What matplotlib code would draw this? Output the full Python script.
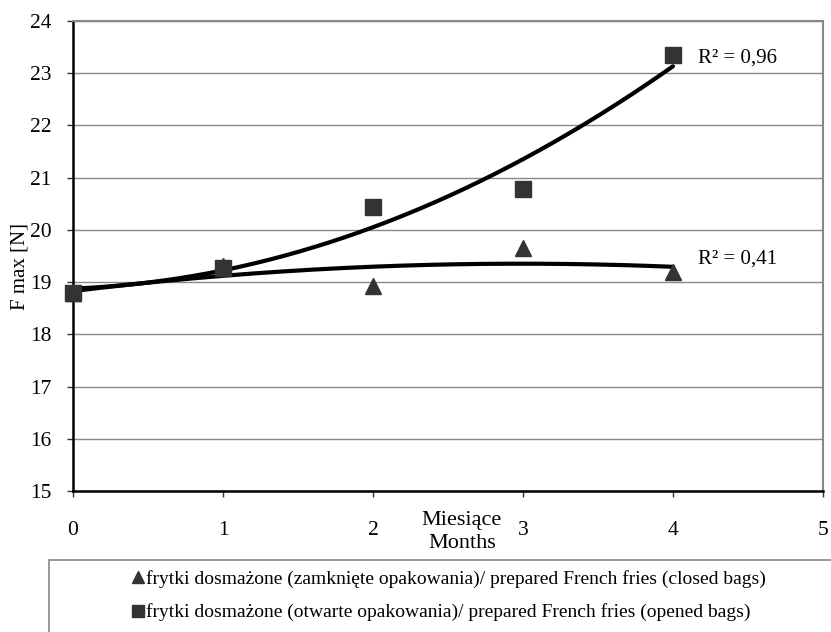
import numpy as np
import matplotlib
matplotlib.use("Agg")
import matplotlib.pyplot as plt
from matplotlib.lines import Line2D
from matplotlib.patches import Rectangle

plt.rcParams["font.family"] = ["Liberation Serif", "DejaVu Serif"]

months = [0, 1, 2, 3, 4]
closed_bags = [18.8, 19.3, 18.93, 19.66, 19.2]
opened_bags = [18.79, 19.27, 20.44, 20.79, 23.35]
r2_closed = "R\u00b2 = 0,41"
r2_opened = "R\u00b2 = 0,96"
label_closed = "frytki dosmażone (zamknięte opakowania)/ prepared French fries (closed bags)"
label_opened = "frytki dosmażone (otwarte opakowania)/ prepared French fries (opened bags)"

W, H = 831, 632
fig = plt.figure(figsize=(W / 100, H / 100), dpi=100)
ax = fig.add_axes([73 / W, 1 - 491 / H, 750 / W, 470 / H])

xs = np.linspace(0, 4, 200)
for vals in (closed_bags, opened_bags):
    coef = np.polyfit(months, vals, 2)
    ax.plot(xs, np.polyval(coef, xs), color="black", lw=3.0, zorder=3,
            solid_capstyle="round", clip_on=False)

ax.plot(months, closed_bags, linestyle="none", marker="^", ms=12,
        color="#333333", zorder=4, clip_on=False)
ax.plot(months, opened_bags, linestyle="none", marker="s", ms=12,
        color="#333333", zorder=4, clip_on=False)

ax.text(4.17, 23.3, r2_opened, fontsize=15, va="center", ha="left")
ax.text(4.17, 19.45, r2_closed, fontsize=15, va="center", ha="left")

ax.set_xlim(0, 5)
ax.set_ylim(15, 24)
ax.set_xticks(range(0, 6))
ax.set_yticks(range(15, 25))
ax.tick_params(axis="both", labelsize=15.5, length=4.3, width=1,
               color="#333333")
ax.tick_params(axis="x", pad=17)
ax.tick_params(axis="y", pad=11)
ax.grid(axis="y", color="#888888", lw=1)
ax.set_axisbelow(True)
for s in ("top", "right"):
    ax.spines[s].set_color("#888888")
    ax.spines[s].set_linewidth(1.5)
for s in ("left", "bottom"):
    ax.spines[s].set_color("black")
    ax.spines[s].set_linewidth(1.8)

fig.text(20 / W, 1 - 266 / H, "F max [N]", fontsize=15, rotation=90,
         ha="center", va="center")
fig.text(462 / W, 1 - 532 / H, "Miesiące\nMonths", fontsize=16,
         ha="center", va="center", linespacing=1.3)

# legend box runs past the right and bottom edge of the picture
fig.patches.append(Rectangle((49 / W, -0.1), 1.0, 0.1 + 72 / H,
                             transform=fig.transFigure, fill=False,
                             edgecolor="#888888", lw=1.2))
handles = [
    Line2D([], [], linestyle="none", marker="^", ms=9, color="#333333"),
    Line2D([], [], linestyle="none", marker="s", ms=9, color="#333333"),
]
fig.legend(handles, [label_closed, label_opened], loc="upper left",
           bbox_to_anchor=(132 / W, 1 - 570 / H), fontsize=14.0,
           frameon=False, handlelength=0.6, handletextpad=0.1,
           labelspacing=0.8, borderpad=0, borderaxespad=0)

fig.savefig("out.png", dpi=100)
